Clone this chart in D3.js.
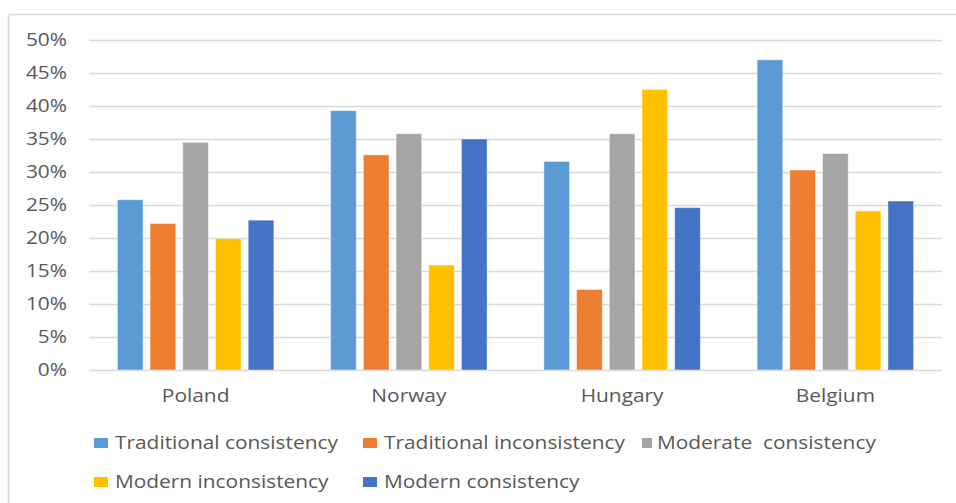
<!DOCTYPE html>
<html>
<head>
<meta charset="utf-8">
<script src="https://cdn.jsdelivr.net/npm/d3@7"></script>
<style>
  body { margin: 0; background: #fff; }
  text { font-family: "Open Sans", sans-serif; fill: #595959; }
</style>
</head>
<body>
<svg id="chart" width="956" height="503"></svg>
<script>
// data
const countries = ["Poland", "Norway", "Hungary", "Belgium"];
const seriesNames = ["Traditional consistency", "Traditional inconsistency", "Moderate  consistency", "Modern inconsistency", "Modern consistency"];
const tradConsistency = [25.8, 39.3, 31.6, 47.0];
const tradInconsistency = [22.2, 32.6, 12.2, 30.3];
const moderateConsistency = [34.5, 35.8, 35.8, 32.8];
const modernInconsistency = [19.9, 15.9, 42.5, 24.1];
const modernConsistency = [22.7, 35.0, 24.6, 25.6];
const yTicks = [0, 5, 10, 15, 20, 25, 30, 35, 40, 45, 50];

const colors = ["#5B9BD5", "#ED7D31", "#A5A5A5", "#FFC000", "#4472C4"];
const allSeries = [tradConsistency, tradInconsistency, moderateConsistency, modernInconsistency, modernConsistency];

// build rows: one per country with the 5 values
let rows = countries.map((c, i) => ({
  country: c,
  values: allSeries.map((s, k) => ({ key: k, value: s[i] }))
}));

const svg = d3.select("#chart");

const plotLeft = 89, plotRight = 942, plotTop = 40, plotBottom = 370;
const fontSize = "18px";
const stretch = 1.16; // the reference text is horizontally wide

// widen a text selection around its own x anchor
let widen = sel => sel.each(function () {
  let t = d3.select(this);
  let x = +t.attr("x") || 0;
  t.attr("x", x / stretch).attr("transform", `scale(${stretch},1)`);
});

// chart frame (only top and left edges visible in the reference)
svg.append("line").attr("x1", 8.5).attr("x2", 956).attr("y1", 14.5).attr("y2", 14.5)
  .style("stroke", "#d9d9d9").style("stroke-width", 1.5);
svg.append("line").attr("x1", 8.5).attr("x2", 8.5).attr("y1", 14.5).attr("y2", 503)
  .style("stroke", "#d9d9d9").style("stroke-width", 1.5);

let x0 = d3.scaleBand().domain(countries).range([plotLeft, plotRight]).padding(0);
let x1 = d3.scaleBand().domain(d3.range(5))
  .range([28.4, x0.bandwidth() - 28.4])
  .paddingInner(0.215).paddingOuter(0);
let y = d3.scaleLinear().domain([0, 50]).range([plotBottom, plotTop]);

// gridlines + y labels
let yAxis = svg.append("g")
  .attr("transform", `translate(${plotLeft},0)`)
  .call(d3.axisLeft(y).tickValues(yTicks).tickSize(-(plotRight - plotLeft)).tickPadding(22).tickFormat(d => d + "%"));
yAxis.select(".domain").remove();
yAxis.selectAll(".tick line").style("stroke", "#d9d9d9").style("stroke-width", 1.3);
yAxis.selectAll(".tick text").style("font-size", fontSize).style("fill", "#595959")
  .attr("font-family", null)
  .call(widen);

// bars
svg.selectAll(".group")
  .data(rows)
  .enter()
  .append("g")
  .attr("class", "group")
  .attr("transform", d => `translate(${x0(d.country)},0)`)
  .selectAll("rect")
  .data(d => d.values)
  .enter()
  .append("rect")
  .attr("x", d => x1(d.key))
  .attr("y", d => y(d.value))
  .attr("width", x1.bandwidth())
  .attr("height", d => plotBottom - y(d.value))
  .style("fill", d => colors[d.key])
  .style("stroke", "rgba(255,255,255,0.45)")
  .style("stroke-width", 1);

// category labels
let xAxis = svg.append("g")
  .attr("transform", `translate(0,${plotBottom})`)
  .call(d3.axisBottom(x0).tickSize(0).tickPadding(19));
xAxis.select(".domain").remove();
xAxis.selectAll(".tick text").style("font-size", fontSize).style("fill", "#595959")
  .attr("font-family", null)
  .call(widen);

// legend: [x, y, swatch width, text offset]
const legendPos = [[94, 443, 14, 21], [363, 443, 14, 21], [642, 443, 10, 15], [94, 482, 14, 21], [363, 482, 14, 21]];
let legend = svg.selectAll(".legend")
  .data(seriesNames)
  .enter()
  .append("g")
  .attr("class", "legend")
  .attr("transform", (d, i) => `translate(${legendPos[i][0]},${legendPos[i][1]})`);

legend.append("rect")
  .attr("x", 0).attr("y", -5)
  .attr("width", (d, i) => legendPos[i][2]).attr("height", 10)
  .style("fill", (d, i) => colors[i]);

legend.append("text")
  .attr("x", (d, i) => legendPos[i][3]).attr("y", 0)
  .attr("dy", "0.35em")
  .style("font-size", fontSize)
  .style("white-space", "pre")
  .attr("xml:space", "preserve")
  .text(d => d)
  .call(widen);
</script>
</body>
</html>
